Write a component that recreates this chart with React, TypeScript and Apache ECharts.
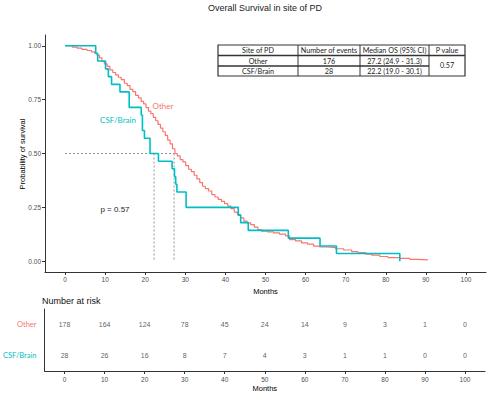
import React, { useEffect, useRef } from "react";
import * as echarts from "echarts";

const TITLE = "Overall Survival in site of PD";
const Y_TITLE = "Probability of survival";
const groups = ["Other", "CSF/Brain"];
const groupColors = ["#F8766D", "#00BFC4"];

// Kaplan-Meier step points [months, survival]
const otherCurve: [number, number][] = [
  [0, 1.0], [1.8, 0.994], [3.0, 0.989], [4.2, 0.983], [5.5, 0.978], [6.6, 0.972], [7.4, 0.966],
  [8.0, 0.955], [8.6, 0.944], [9.2, 0.927], [9.8, 0.916], [10.5, 0.904], [11.2, 0.888],
  [11.9, 0.876], [12.6, 0.865], [13.3, 0.854], [14.0, 0.843], [14.8, 0.826], [15.5, 0.815],
  [16.2, 0.798], [16.9, 0.787], [17.6, 0.77], [18.3, 0.758], [19.0, 0.742], [19.6, 0.73],
  [20.2, 0.713], [20.8, 0.697], [21.4, 0.685], [22.0, 0.668], [22.6, 0.652], [23.2, 0.635],
  [23.8, 0.618], [24.4, 0.601], [25.0, 0.584], [25.6, 0.562], [26.2, 0.545], [26.8, 0.522],
  [27.4, 0.5], [28.0, 0.489], [28.7, 0.472], [29.4, 0.461], [30.1, 0.444], [30.8, 0.427],
  [31.5, 0.416], [32.2, 0.399], [32.9, 0.382], [33.6, 0.365], [34.3, 0.348], [35.0, 0.337],
  [35.8, 0.326], [36.6, 0.309], [37.4, 0.298], [38.2, 0.287], [39.0, 0.278], [39.8, 0.267],
  [40.6, 0.256], [41.4, 0.244], [42.2, 0.228], [43.0, 0.216], [43.8, 0.201], [44.6, 0.186],
  [45.4, 0.178], [46.3, 0.17], [47.2, 0.158], [48.1, 0.147], [49.0, 0.14], [50.5, 0.136],
  [52.0, 0.132], [53.5, 0.126], [55.0, 0.118], [56.0, 0.1], [57.5, 0.094], [59.0, 0.085],
  [60.5, 0.079], [62.0, 0.07], [63.5, 0.066], [65.5, 0.063], [67.5, 0.058], [69.5, 0.052],
  [71.5, 0.045], [73.0, 0.04], [75.0, 0.033], [76.5, 0.028], [78.5, 0.022], [80.5, 0.017],
  [83.5, 0.013], [86.0, 0.009], [88.0, 0.006], [90.5, 0.006]
];

const csfCurve: [number, number][] = [
  [0, 1.0], [7.65, 0.964], [8.15, 0.929], [10.1, 0.893], [10.8, 0.857], [11.6, 0.821],
  [13.7, 0.786], [16.0, 0.714], [19.0, 0.679], [19.3, 0.607], [19.8, 0.571], [21.2, 0.5],
  [23.3, 0.464], [26.7, 0.429], [27.3, 0.393], [27.6, 0.357], [27.9, 0.321], [30.2, 0.25],
  [43.2, 0.214], [43.8, 0.179], [45.7, 0.143], [55.7, 0.107], [63.6, 0.071], [67.7, 0.036],
  [83.5, 0.0]
];

const medians = [27.2, 22.2];

const xTicks = [0, 10, 20, 30, 40, 50, 60, 70, 80, 90, 100];
const yTicks = [0, 0.25, 0.5, 0.75, 1];

const riskTimes = [0, 10, 20, 30, 40, 50, 60, 70, 80, 90, 100];
const riskOther = [178, 164, 124, 78, 45, 24, 14, 9, 3, 1, 0];
const riskCsf = [28, 26, 16, 8, 7, 4, 3, 1, 1, 0, 0];

const tableHeader = ["Site of PD", "Number of events", "Median OS (95% CI)", "P value"];
const tableRows = [
  ["Other", "176", "27.2 (24.9 - 31.3)"],
  ["CSF/Brain", "28", "22.2 (19.0 - 30.1)"]
];
const pValueText = "0.57";
const pLabel = "p = 0.57";

const SANS = "'Liberation Sans', Arial, sans-serif";
const CAL = "Lato, 'Open Sans', sans-serif";

function buildTable(): any[] {
  const cols = [218, 298, 360, 429, 465];
  const rows = [45, 55.5, 66, 76];
  const els: any[] = [];
  const stroke = { stroke: "#333", lineWidth: 1, fill: null };
  els.push({ type: "rect", shape: { x: cols[0], y: rows[0], width: cols[4] - cols[0], height: rows[3] - rows[0] }, style: { ...stroke, fill: "#fff", lineWidth: 1.2 } });
  for (let i = 1; i < 4; i++) {
    els.push({ type: "line", shape: { x1: cols[i], y1: rows[0], x2: cols[i], y2: rows[3] }, style: stroke });
  }
  els.push({ type: "line", shape: { x1: cols[0], y1: rows[1], x2: cols[4], y2: rows[1] }, style: { ...stroke, lineWidth: 1.3 } });
  els.push({ type: "line", shape: { x1: cols[0], y1: rows[2], x2: cols[3], y2: rows[2] }, style: { ...stroke, lineWidth: 1.3 } });
  const txt = (s: string, cx: number, cy: number) => ({
    type: "text",
    style: { text: s, x: cx, y: cy, align: "center", verticalAlign: "middle", font: `7.2px ${CAL}`, fill: "#222" }
  });
  tableHeader.forEach((h, i) => els.push(txt(h, (cols[i] + cols[i + 1]) / 2, (rows[0] + rows[1]) / 2 + 0.5)));
  tableRows.forEach((r, ri) => {
    r.forEach((c, ci) => els.push(txt(c, (cols[ci] + cols[ci + 1]) / 2, (rows[ri + 1] + rows[ri + 2]) / 2 + 0.5)));
  });
  els.push(txt(pValueText, (cols[3] + cols[4]) / 2, (rows[1] + rows[3]) / 2));
  return els;
}

export default function App() {
  const ref = useRef<HTMLDivElement>(null);
  useEffect(() => {
    document.body.style.margin = "0";
    const chart = echarts.init(ref.current!, null, { renderer: "svg" });
    const maxMed = Math.max(...medians);
    const dashStyle = { color: "#666", width: 0.7, type: [2, 2] as any };
    const medianSeries: any[] = [
      { type: "line", data: [[0, 0.5], [maxMed, 0.5]], showSymbol: false, lineStyle: dashStyle, silent: true, z: 1 },
      ...medians.map((m) => ({ type: "line", data: [[m, 0.5], [m, 0]], showSymbol: false, lineStyle: dashStyle, silent: true, z: 1 }))
    ];
    const axisLineStyle = { color: "#333", width: 1 };
    const tickLabel = { fontSize: 6.5, color: "#4d4d4d", fontFamily: SANS };
    const option: any = {
      animation: false,
      grid: [
        { left: 45, top: 35, width: 441, height: 237 },
        { left: 41, top: 309, width: 444, height: 62 }
      ],
      xAxis: [
        {
          type: "value", gridIndex: 0, min: -5, max: 105,
          axisLine: { show: true, onZero: false, lineStyle: axisLineStyle },
          axisTick: { show: true, customValues: xTicks, length: 3, lineStyle: axisLineStyle },
          axisLabel: { customValues: xTicks, margin: 4, ...tickLabel },
          splitLine: { show: false },
          name: "Months", nameLocation: "middle", nameGap: 12,
          nameTextStyle: { fontSize: 7.5, color: "#000", fontFamily: SANS }
        },
        {
          type: "value", gridIndex: 1, min: -5, max: 105,
          axisLine: { show: true, onZero: false, lineStyle: axisLineStyle },
          axisTick: { show: true, customValues: xTicks, length: 3, lineStyle: axisLineStyle },
          axisLabel: { customValues: xTicks, margin: 5, ...tickLabel },
          splitLine: { show: false },
          name: "Months", nameLocation: "middle", nameGap: 13,
          nameTextStyle: { fontSize: 7.5, color: "#000", fontFamily: SANS }
        }
      ],
      yAxis: [
        {
          type: "value", gridIndex: 0, min: -0.05, max: 1.05,
          axisLine: { show: true, onZero: false, lineStyle: axisLineStyle },
          axisTick: { show: true, customValues: yTicks, length: 3, lineStyle: axisLineStyle },
          axisLabel: { customValues: yTicks, formatter: (v: number) => v.toFixed(2), margin: 4, ...tickLabel },
          splitLine: { show: false }
        },
        {
          type: "category", gridIndex: 1, data: ["CSF/Brain", "Other"],
          axisLine: { show: true, onZero: false, lineStyle: axisLineStyle },
          axisTick: { show: false },
          axisLabel: {
            margin: 8, fontSize: 7.5, fontFamily: CAL,
            color: (v: string) => groupColors[groups.indexOf(v)]
          },
          splitLine: { show: false }
        }
      ],
      series: [
        ...medianSeries,
        {
          name: groups[0], type: "line", step: "end", data: otherCurve, showSymbol: false,
          lineStyle: { color: groupColors[0], width: 1.2 }, itemStyle: { color: groupColors[0] }, z: 2
        },
        {
          name: groups[1], type: "line", step: "end", data: csfCurve, showSymbol: false,
          lineStyle: { color: groupColors[1], width: 1.6 }, itemStyle: { color: groupColors[1] }, z: 3
        },
        ...[riskOther, riskCsf].map((arr, gi) => ({
          type: "scatter", xAxisIndex: 1, yAxisIndex: 1,
          data: riskTimes.map((t, i) => [t, groups[gi], arr[i]]),
          symbolSize: 1, itemStyle: { color: "transparent" },
          label: {
            show: true, position: "inside", formatter: (p: any) => String(p.data[2]),
            fontSize: 7, color: "#333", fontFamily: SANS
          }
        }))
      ],
      graphic: [
        { type: "text", style: { text: TITLE, x: 265, y: 8, align: "center", verticalAlign: "middle", font: `9px ${SANS}`, fill: "#222" } },
        { type: "text", x: 22, y: 154, rotation: Math.PI / 2, style: { text: Y_TITLE, x: 0, y: 0, align: "center", verticalAlign: "middle", font: `7.5px ${SANS}`, fill: "#000" } },
        { type: "text", style: { text: "Number at risk", x: 42, y: 301, align: "left", verticalAlign: "middle", font: `9px ${SANS}`, fill: "#111" } },
        { type: "text", style: { text: groups[0], x: 163, y: 106, align: "center", verticalAlign: "middle", font: `8px ${CAL}`, fill: groupColors[0] } },
        { type: "text", style: { text: groups[1], x: 118, y: 120, align: "center", verticalAlign: "middle", font: `8px ${CAL}`, fill: groupColors[1] } },
        { type: "text", style: { text: pLabel, x: 115, y: 209, align: "center", verticalAlign: "middle", font: `8px ${SANS}`, fill: "#222" } },
        ...buildTable()
      ]
    };
    chart.setOption(option);
    return () => chart.dispose();
  }, []);
  return <div ref={ref} style={{ width: 489, height: 393 }} />;
}
